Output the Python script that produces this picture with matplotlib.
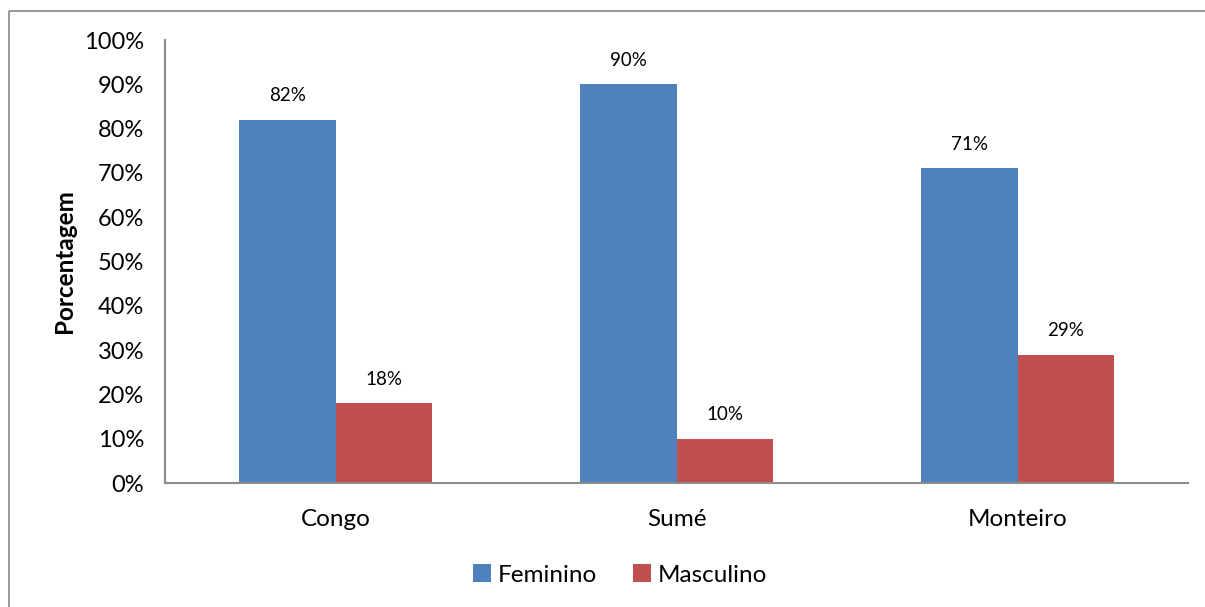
import matplotlib
matplotlib.use("Agg")
import matplotlib.pyplot as plt
from matplotlib.lines import Line2D
import numpy as np

plt.rcParams['font.family'] = ['Lato', 'DejaVu Sans']

categories = ["Congo", "Sumé", "Monteiro"]
feminino = [82, 90, 71]
masculino = [18, 10, 29]
series_names = ["Feminino", "Masculino"]
colors = ["#4F81BD", "#C0504D"]
yticks = [0, 10, 20, 30, 40, 50, 60, 70, 80, 90, 100]

W, H = 1205, 607
fig = plt.figure(figsize=(W / 100, H / 100), dpi=100)
fig.patch.set_facecolor("white")
fig.patch.set_edgecolor("white")
fig.patch.set_linewidth(0)

# outer chart frame: left and top edges
fx, fy = 8.5 / W, 1 - 10.5 / H
frame_kw = dict(transform=fig.transFigure, color="#878787", linewidth=1.2,
                solid_capstyle="butt")
fig.lines.append(Line2D([fx, fx], [0, fy], **frame_kw))
fig.lines.append(Line2D([fx, 1.0], [fy, fy], **frame_kw))

ax = fig.add_axes([165 / W, 1 - 483 / H, (1188 - 165) / W, (483 - 40) / H])

x = np.arange(len(categories))
bw = 0.284
b1 = ax.bar(x - bw / 2, feminino, bw, color=colors[0], label=series_names[0])
b2 = ax.bar(x + bw / 2, masculino, bw, color=colors[1], label=series_names[1])

for bars, vals in ((b1, feminino), (b2, masculino)):
    for b, v in zip(bars, vals):
        ax.text(b.get_x() + b.get_width() / 2, v + 5.4, f"{v}%",
                ha="center", va="center", fontsize=13.5)

ax.set_xlim(-0.5, len(categories) - 0.5)
ax.set_ylim(0, 100)
ax.set_yticks(yticks)
ax.set_yticklabels([f"{t}%" for t in yticks], fontsize=17)
ax.set_xticks(x)
ax.set_xticklabels(categories, fontsize=17.5)
ax.tick_params(axis="both", length=0)
ax.tick_params(axis="y", pad=15)
ax.tick_params(axis="x", pad=19)

for s in ("top", "right"):
    ax.spines[s].set_visible(False)
for s in ("left", "bottom"):
    ax.spines[s].set_color("#8C8C8C")
    ax.spines[s].set_linewidth(1.5)

ax.set_ylabel("Porcentagem", fontsize=17.5, fontweight="bold", labelpad=6)

fig.legend(handles=[b1, b2], labels=series_names, loc="center",
           bbox_to_anchor=(620 / W, 1 - 575 / H), ncol=2, frameon=False,
           fontsize=17.5, handlelength=0.75, handleheight=0.75,
           handletextpad=0.25, columnspacing=1.5)

fig.savefig("out.png", dpi=100, facecolor="white", edgecolor="white")
